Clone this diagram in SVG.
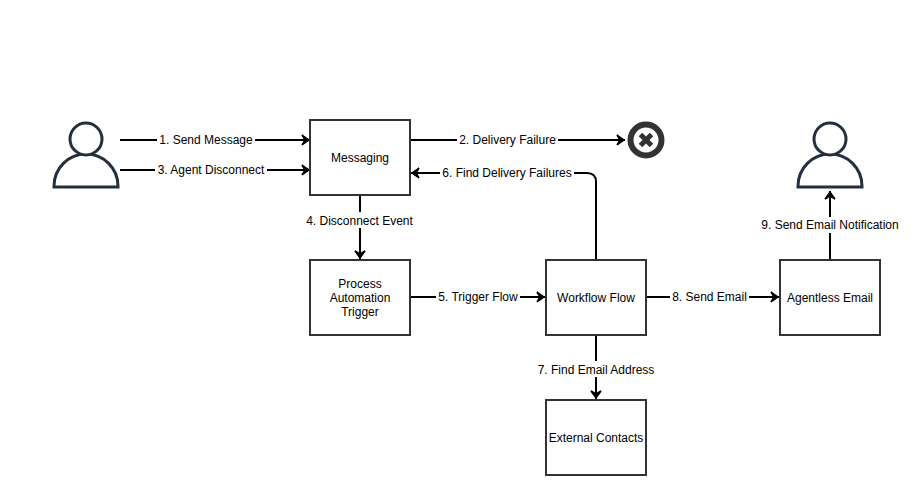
<svg xmlns="http://www.w3.org/2000/svg" width="921" height="495" viewBox="0 0 921 495">
<style>
.box{fill:#fff;stroke:#333;stroke-width:2}
.t{font-family:"Liberation Sans",Arial,sans-serif;font-size:12px;fill:#000;text-anchor:middle}
.c{fill:none;stroke:#000;stroke-width:2}
.lb{fill:#fff}
.p{fill:#fff;stroke:#232f3e;stroke-width:3}
</style>
<defs>
<marker id="a" markerUnits="userSpaceOnUse" markerWidth="14" markerHeight="14" viewBox="0 0 14 14" refX="13" refY="7" orient="auto"><path d="M5 2L12 7L5 12L8 7Z" fill="#000" stroke="#000" stroke-width="1.500" stroke-linejoin="miter"/></marker>
<g id="person"><path class="p" d="M-32 33V32A32 32 0 0 1 32 32V33Z"/><circle class="p" cx="0" cy="-15" r="16"/></g>
</defs>
<rect width="921" height="495" fill="#fff"/>
<g id="connectors">
<path class="c" d="M120 140H310" marker-end="url(#a)"/>
<path class="c" d="M120 170H310" marker-end="url(#a)"/>
<path class="c" d="M410 140H625" marker-end="url(#a)"/>
<path class="c" d="M596 260V182Q596 173 587 173H411" marker-end="url(#a)"/>
<path class="c" d="M360 195V259" marker-end="url(#a)"/>
<path class="c" d="M410 297H545" marker-end="url(#a)"/>
<path class="c" d="M646 297H779" marker-end="url(#a)"/>
<path class="c" d="M596 335V399" marker-end="url(#a)"/>
<path class="c" d="M830 260V191" marker-end="url(#a)"/>
<g class="lb">
<rect x="157" y="132" width="98" height="16"/>
<rect x="155" y="162" width="112" height="16"/>
<rect x="457" y="132" width="101" height="16"/>
<rect x="440" y="165" width="134" height="16"/>
<rect x="304" y="212" width="112" height="16"/>
<rect x="436" y="289" width="84" height="16"/>
<rect x="670" y="289" width="79" height="16"/>
<rect x="535" y="361" width="122" height="16"/>
<rect x="759" y="217" width="142" height="16"/>
</g>
<g class="t">
<text x="206" y="144">1. Send Message</text>
<text x="211" y="174">3. Agent Disconnect</text>
<text x="507.500" y="144">2. Delivery Failure</text>
<text x="507" y="177">6. Find Delivery Failures</text>
<text x="359.500" y="225">4. Disconnect Event</text>
<text x="478" y="301">5. Trigger Flow</text>
<text x="709.500" y="301">8. Send Email</text>
<text x="596" y="374">7. Find Email Address</text>
<text x="830" y="229">9. Send Email Notification</text>
</g>
</g>
<g id="user-left"><use href="#person" x="86" y="154"/></g>
<g id="user-right"><use href="#person" x="830" y="154"/></g>
<g id="messaging"><rect class="box" x="310" y="120" width="100" height="75"/><text class="t" x="360" y="162">Messaging</text></g>
<g id="failure"><circle cx="646" cy="140" r="15.500" fill="#fff" stroke="#333" stroke-width="6"/><path d="M640.500 134.500L651.500 145.500M651.500 134.500L640.500 145.500" stroke="#333" stroke-width="5" fill="none"/></g>
<g id="trigger"><rect class="box" x="310" y="260" width="100" height="75"/><text class="t" x="360" y="288">Process</text><text class="t" x="360" y="302">Automation</text><text class="t" x="360" y="316">Trigger</text></g>
<g id="workflow"><rect class="box" x="546" y="260" width="100" height="75"/><text class="t" x="596" y="302">Workflow Flow</text></g>
<g id="email"><rect class="box" x="780" y="260" width="100" height="75"/><text class="t" x="830" y="302">Agentless Email</text></g>
<g id="contacts"><rect class="box" x="546" y="400" width="100" height="75"/><text class="t" x="596" y="442">External Contacts</text></g>
</svg>
